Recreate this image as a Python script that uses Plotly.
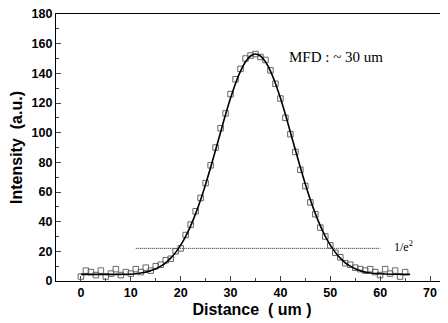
import plotly.graph_objects as go

# measured points (open squares)
meas_x = [0, 1, 2, 3, 4, 5, 6, 7, 8, 9, 10, 11, 12, 13, 14, 15, 16, 17, 18, 19,
          20, 21, 22, 23, 24, 25, 26, 27, 28, 29, 30, 31, 32, 33, 34, 35, 36, 37, 38, 39,
          40, 41, 42, 43, 44, 45, 46, 47, 48, 49, 50, 51, 52, 53, 54, 55, 56, 57, 58, 59,
          60, 61, 62, 63, 64, 65]
meas_y = [3, 7, 6, 4, 7, 3, 5, 8, 4, 6, 5, 8, 6, 9, 7, 10, 11, 14, 15, 20,
          22, 31, 38, 47, 56, 66, 78, 90, 103, 113, 126, 136, 143, 150, 152, 153, 151, 149, 142, 133,
          123, 110, 99, 87, 75, 64, 53, 45, 36, 30, 24, 19, 16, 12, 11, 9, 8, 7, 8, 6,
          4, 8, 5, 7, 3, 6]

# fitted curve
fit_x = [0, 2, 4, 6, 8, 10, 11, 12, 13, 14, 15, 16, 17, 18, 19, 20, 21, 22, 23, 24,
         25, 26, 27, 28, 29, 30, 31, 32, 33, 34, 35, 36, 37, 38, 39, 40, 41, 42, 43, 44,
         45, 46, 47, 48, 49, 50, 51, 52, 53, 54, 55, 56, 57, 58, 60, 62, 64, 66]
fit_y = [4.5, 4.5, 4.5, 4.5, 4.5, 4.6, 4.9, 5.4, 6.0, 7.0, 8.2, 10.0, 12.3, 15.4, 19.3, 24.2, 30.1, 37.2, 45.4, 54.8,
         65.3, 76.5, 88.3, 100.3, 112.2, 123.3, 133.2, 141.5, 147.8, 151.7, 153.0, 151.7, 147.8, 141.5, 133.2, 123.3, 112.2, 100.3, 88.3, 76.5,
         65.3, 54.8, 45.4, 37.2, 30.1, 24.2, 19.3, 15.4, 12.3, 10.0, 8.2, 7.0, 6.0, 5.4, 4.9, 4.6, 4.5, 4.5]

# 1/e^2 level line
level_x = [11, 60]
level_y = [22, 22]

x_ticks = [0, 10, 20, 30, 40, 50, 60, 70]
y_ticks = [0, 20, 40, 60, 80, 100, 120, 140, 160, 180]

fig = go.Figure()
fig.add_trace(go.Scatter(x=level_x, y=level_y, mode="lines",
                         line=dict(color="#222222", width=1, dash="1px,1px"),
                         showlegend=False))
fig.add_trace(go.Scatter(x=meas_x, y=meas_y, mode="markers",
                         marker=dict(symbol="square-open", size=5.5, color="#666666",
                                     line=dict(width=1)),
                         showlegend=False))
fig.add_trace(go.Scatter(x=fit_x, y=fit_y, mode="lines",
                         line=dict(color="black", width=1.6, shape="spline"),
                         showlegend=False))

fig.add_annotation(x=41.3, y=151, text="MFD : ~ 30 um", showarrow=False,
                   xanchor="left", yanchor="middle",
                   font=dict(family="Liberation Serif", size=15, color="black"))
fig.add_annotation(x=62.3, y=23.5, text="1/e<sup>2</sup>", showarrow=False,
                   xanchor="left", yanchor="middle",
                   font=dict(family="Liberation Serif", size=12, color="black"))

axis_font = dict(family="Liberation Sans", size=12.5, color="black", weight="bold")
title_font = dict(family="Liberation Sans", size=16, color="black", weight="bold")
fig.update_xaxes(range=[-5, 73.6], tickvals=x_ticks, ticks="inside", ticklen=5,
                 showline=True, linecolor="black", linewidth=1.2, mirror=True,
                 showgrid=False, zeroline=False, tickfont=axis_font, automargin=False,
                 ticklabeloverflow="allow",
                 minor=dict(dtick=5, tick0=0, ticks="inside", ticklen=3, showgrid=False),
                 title=dict(text="Distance  ( um )", standoff=4, font=title_font))
fig.update_yaxes(range=[0, 180], tickvals=y_ticks, ticks="inside", ticklen=5,
                 showline=True, linecolor="black", linewidth=1.2, mirror=False,
                 showgrid=False, zeroline=False, tickfont=axis_font, automargin=False,
                 ticklabeloverflow="allow",
                 minor=dict(dtick=10, tick0=0, ticks="inside", ticklen=3, showgrid=False),
                 title=dict(text="Intensity  (a.u.)", standoff=6, font=title_font))
fig.update_layout(width=440, height=315, margin=dict(l=48, r=0, t=6, b=42),
                  plot_bgcolor="white", paper_bgcolor="white")
fig.write_html("out.html")
